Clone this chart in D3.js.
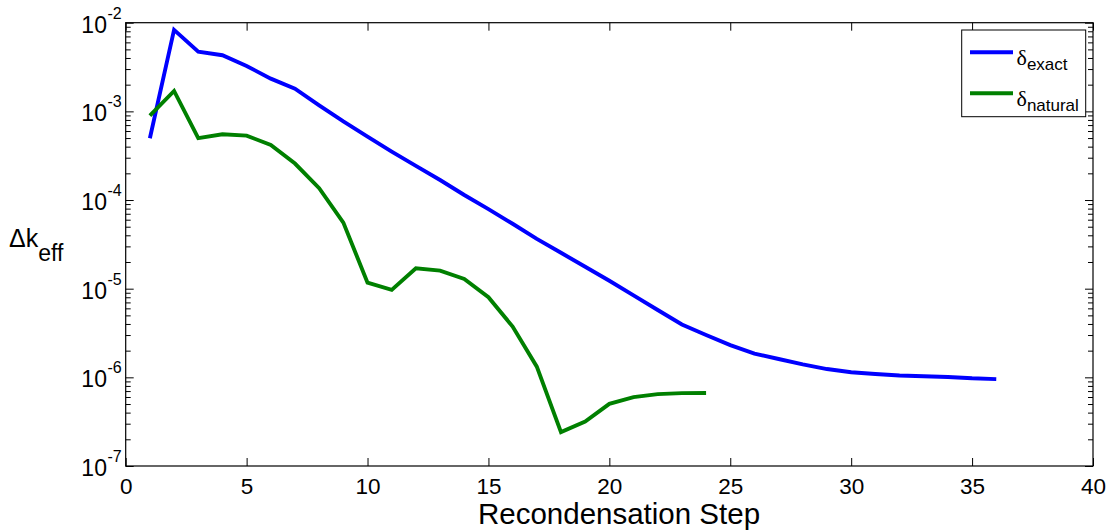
<!DOCTYPE html>
<html>
<head>
<meta charset="utf-8">
<script src="https://cdn.jsdelivr.net/npm/d3@7"></script>
<style>
  body { margin: 0; background: #fff; }
  svg { display: block; }
  text { font-family: "Liberation Sans", Arial, sans-serif; fill: #000; }
</style>
</head>
<body>
<svg id="chart" width="1109" height="531"></svg>
<script>
// ---- data ----
const exactSteps = [1,2,3,4,5,6,7,8,9,10,11,12,13,14,15,16,17,18,19,20,21,22,23,24,25,26,27,28,29,30,31,32,33,34,35,36];
const exactValues = [4.97e-4, 8.3e-3, 4.7e-3, 4.3e-3, 3.25e-3, 2.34e-3, 1.8e-3, 1.17e-3, 7.7e-4, 5.19e-4,
  3.52e-4, 2.43e-4, 1.68e-4, 1.14e-4, 7.9e-5, 5.4e-5, 3.65e-5, 2.54e-5, 1.77e-5, 1.23e-5,
  8.4e-6, 5.75e-6, 3.95e-6, 3.0e-6, 2.31e-6, 1.85e-6, 1.61e-6, 1.40e-6, 1.24e-6, 1.14e-6,
  1.09e-6, 1.05e-6, 1.03e-6, 1.01e-6, 9.75e-7, 9.55e-7];
const naturalSteps = [1,2,3,4,5,6,7,8,9,10,11,12,13,14,15,16,17,18,19,20,21,22,23,24];
const naturalValues = [8.97e-4, 1.70e-3, 4.98e-4, 5.52e-4, 5.32e-4, 4.18e-4, 2.58e-4, 1.36e-4, 5.56e-5, 1.17e-5,
  9.68e-6, 1.70e-5, 1.60e-5, 1.29e-5, 8.0e-6, 3.74e-6, 1.32e-6, 2.41e-7, 3.18e-7, 5.02e-7,
  5.98e-7, 6.46e-7, 6.63e-7, 6.65e-7];
const xTicks = [0,5,10,15,20,25,30,35,40];
const yTickExponents = [-7,-6,-5,-4,-3,-2];
const yMinorMultipliers = [2,3,4,5,6,7,8,9];
const seriesNames = ["exact", "natural"];
const seriesColors = ["#0000ff", "#008000"];
const xLabel = "Recondensation Step";

// ---- layout ----
const svg = d3.select("#chart");
const L = 125.7, R = 1093, T = 22.7, B = 466;
const x = d3.scaleLinear().domain([0, 40]).range([L, R]);
const y = d3.scaleLog().domain([1e-7, 1e-2]).range([B, T]);

const yMajor = yTickExponents.map(e => Math.pow(10, e));
const yMinor = [];
yTickExponents.slice(0, -1).forEach(e => yMinorMultipliers.forEach(m => yMinor.push(m * Math.pow(10, e))));

// axes box
svg.append("rect").attr("x", L).attr("y", T).attr("width", R - L).attr("height", B - T)
  .attr("fill", "none").attr("stroke", "#000").attr("stroke-width", 1.2);

function styleAxis(g) {
  g.select(".domain").remove();
  g.selectAll(".tick line").attr("stroke", "#000").attr("stroke-width", 1);
}

// bottom axis
const gx = svg.append("g").attr("transform", `translate(0,${B})`)
  .call(d3.axisBottom(x).tickValues(xTicks).tickSizeInner(-8).tickSizeOuter(0).tickPadding(12).tickFormat(d3.format("d")));
styleAxis(gx);
gx.selectAll(".tick text").attr("font-size", 22.5).attr("font-family", "Liberation Sans, Arial, sans-serif").attr("fill", "#000");
// top axis
const gxt = svg.append("g").attr("transform", `translate(0,${T})`)
  .call(d3.axisTop(x).tickValues(xTicks).tickSizeInner(-8).tickSizeOuter(0).tickFormat(""));
styleAxis(gxt);

// left axis major
const gy = svg.append("g").attr("transform", `translate(${L},0)`)
  .call(d3.axisLeft(y).tickValues(yMajor).tickSizeInner(-8).tickSizeOuter(0).tickPadding(18).tickFormat(() => ""));
styleAxis(gy);
gy.selectAll(".tick text").each(function(d) {
  const t = d3.select(this).attr("x", null).attr("dy", null)
    .attr("font-family", "Liberation Sans, Arial, sans-serif").attr("fill", "#000");
  const e = Math.round(Math.log10(d));
  const base = t.append("tspan").attr("y", 9.5).attr("font-size", 23).text("10");
  const sup = t.append("tspan").attr("y", -4.5).attr("font-size", 16).text(String(e));
  const expW = sup.node().getComputedTextLength();
  const baseW = base.node().getComputedTextLength();
  t.attr("text-anchor", "start");
  base.attr("x", -4 - expW - baseW - 0.5);
  sup.attr("x", -4 - expW);
});
// left minor
const gym = svg.append("g").attr("transform", `translate(${L},0)`)
  .call(d3.axisLeft(y).tickValues(yMinor).tickSizeInner(-5).tickSizeOuter(0).tickFormat(""));
styleAxis(gym);
// right axis
const gyr = svg.append("g").attr("transform", `translate(${R},0)`)
  .call(d3.axisRight(y).tickValues(yMajor).tickSizeInner(-8).tickSizeOuter(0).tickFormat(""));
styleAxis(gyr);
const gyrm = svg.append("g").attr("transform", `translate(${R},0)`)
  .call(d3.axisRight(y).tickValues(yMinor).tickSizeInner(-5).tickSizeOuter(0).tickFormat(""));
styleAxis(gyrm);

// lines
svg.append("clipPath").attr("id", "clip").append("rect")
  .attr("x", L).attr("y", T).attr("width", R - L).attr("height", B - T);
const line = d3.line().x(d => x(d[0])).y(d => y(d[1]));
const seriesData = [
  d3.zip(exactSteps, exactValues),
  d3.zip(naturalSteps, naturalValues)
];
seriesData.forEach((data, i) => {
  svg.append("path").datum(data).attr("d", line)
    .attr("fill", "none").attr("stroke", seriesColors[i]).attr("stroke-width", 3.9)
    .attr("stroke-linejoin", "miter").attr("stroke-linecap", "butt")
    .attr("clip-path", "url(#clip)");
});

// x label
svg.append("text").attr("x", 619).attr("y", 524).attr("text-anchor", "middle")
  .attr("font-size", 29.5).text(xLabel);

// y label Δk_eff
const yl = svg.append("text").attr("x", 9).attr("y", 246.7).attr("font-size", 25);
yl.append("tspan").text("Δk");
yl.append("tspan").attr("dy", 14).attr("font-size", 23).text("eff");

// legend
const lg = svg.append("g");
lg.append("rect").attr("x", 961.7).attr("y", 30).attr("width", 124).attr("height", 86.7)
  .attr("fill", "#fff").attr("stroke", "#000").attr("stroke-width", 1);
const legY = [52.3, 93.3];
seriesNames.forEach((name, i) => {
  lg.append("line").attr("x1", 970).attr("x2", 1013).attr("y1", legY[i]).attr("y2", legY[i])
    .attr("stroke", seriesColors[i]).attr("stroke-width", 3.9);
  const t = lg.append("text").attr("x", 1016.5).attr("y", legY[i] + 12.5);
  t.append("tspan").attr("font-family", "Liberation Serif, Times New Roman, serif").attr("font-size", 22).text("δ");
  t.append("tspan").attr("dy", 5).attr("font-size", 17).text(name);
});
</script>
</body>
</html>
